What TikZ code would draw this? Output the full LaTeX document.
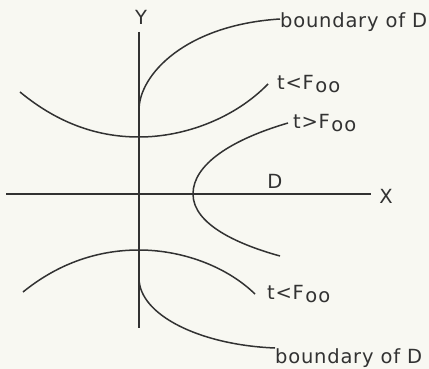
\documentclass[tikz,border=0pt]{standalone}
\usepackage{fontspec}
\setmainfont{DejaVu Sans}[LetterSpace=4]
\usetikzlibrary{positioning}
\definecolor{paper}{RGB}{248,248,242}
\definecolor{ink}{RGB}{50,50,50}
\newcommand{\Foo}{F\kern1.5pt\raisebox{-2.5pt}{o\kern1pt o}}
\tikzset{
  axis/.style={ink, line width=1.5pt},
  curve/.style={ink, line width=1.5pt},
  lab/.style={text=ink, font=\fontsize{19.5}{22}\selectfont, inner sep=0pt},
  tag/.style={lab, anchor=west},
}

\begin{document}
\begin{tikzpicture}[x=1pt,y=-1pt]
  \fill[paper] (0,0) rectangle (429,369);
  \path[use as bounding box] (0,0) rectangle (429,369);

  % axes
  \coordinate (ytop) at (139,32);
  \coordinate (ybot) at (139,328);
  \coordinate (xleft) at (6,194);
  \coordinate (xright) at (371,194);
  \node[lab] (ylab) at (141,17) {Y};
  \node[lab] (xlab) at (386,196) {X};
  \draw[axis] (ytop) -- (ybot);
  \draw[axis] (xleft) -- (xright);
  \node[lab] (dlab) at (275,181) {D};

  % labels
  \node[tag] (bndup) at (280,22) {boundary of D};
  \node[tag, inner xsep=9pt] (ltup) at (268,84) {t<\Foo};
  \node[tag, inner xsep=5pt] (gt) at (288,123) {t>\Foo};
  \node[tag, inner xsep=12pt] (ltdown) at (255,294) {t<\Foo};
  \node[lab, anchor=north west] (bnddown) at (275,348) {boundary of D};
  \coordinate (gtend) at (280,256);

  % curves
  \draw[curve] (139,110) .. controls (139,75) and (185,25) .. ([yshift=3pt]bndup.west);
  \draw[curve] (20,92) .. controls (60,125) and (100,137) .. (139,137)
    .. controls (185,137) and (235,118) .. (ltup.west);
  \draw[curve] (gt.west) .. controls (230,140) and (193,165) .. (193,194)
    .. controls (193,225) and (240,245) .. (gtend);
  \draw[curve] (23,292) .. controls (60,262) and (100,250) .. (139,250)
    .. controls (180,250) and (225,265) .. (ltdown.west);
  \draw[curve] (139,278) .. controls (139,315) and (200,345) .. (bnddown.north west);
\end{tikzpicture}
\end{document}
